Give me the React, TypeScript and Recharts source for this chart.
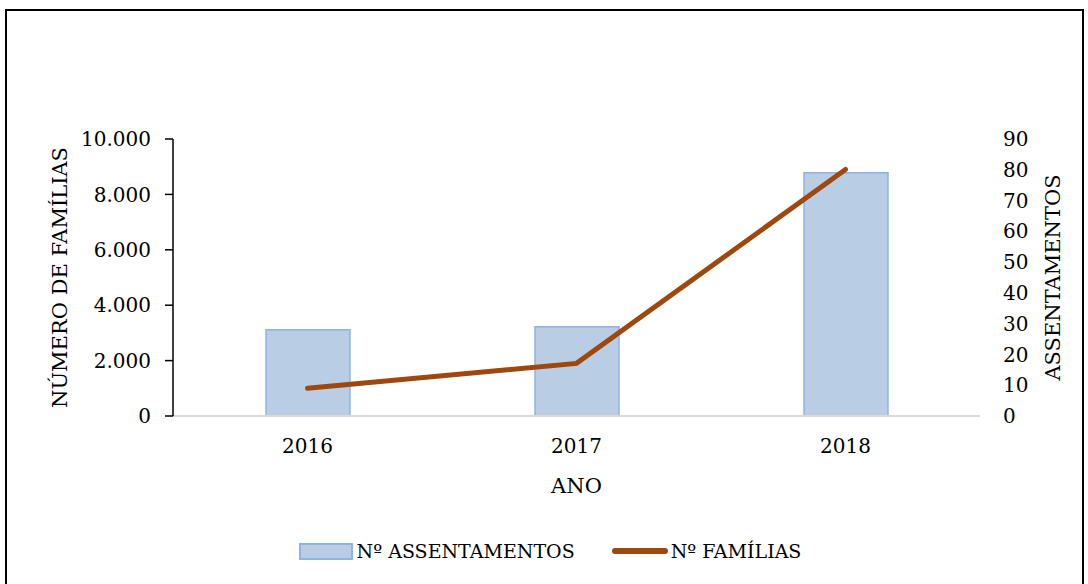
import { Bar, ComposedChart, Line, XAxis, YAxis } from "recharts";

const years = ["2016", "2017", "2018"];
const assentamentos = [28, 29, 79];
const familias = [1000, 1900, 8900];
const familiaTicks = [0, 2000, 4000, 6000, 8000, 10000];
const assentTicks = [0, 10, 20, 30, 40, 50, 60, 70, 80, 90];

const FONT = "'DejaVu Serif', serif";
const BAR_FILL = "#B9CDE5";
const BAR_STROKE = "#8EB4E3";
const LINE_COLOR = "#9E480E";

const data = years.map((year, i) => ({
  year,
  assentamentos: assentamentos[i],
  familias: familias[i]
}));

const fmt = (v: number) => v.toLocaleString("de-DE");

const tickStyle = { fill: "#000", fontSize: 20, fontFamily: FONT };

export default function App() {
  return (
    <div
      style={{
        position: "absolute",
        left: 0,
        top: 0,
        width: 1088,
        height: 584,
        overflow: "hidden",
        background: "#fff",
        fontFamily: FONT
      }}
    >
      <div
        style={{
          position: "absolute",
          left: 5,
          top: 9,
          width: 1079,
          height: 620,
          boxSizing: "border-box",
          border: "2px solid #000"
        }}
      />
      <ComposedChart
        width={1088}
        height={584}
        data={data}
        margin={{ top: 139, right: 0, bottom: 83, left: 0 }}
        style={{ position: "absolute", left: 0, top: 0 }}
      >
        <XAxis
          dataKey="year"
          height={85}
          tickLine={false}
          axisLine={{ stroke: "#D9D9D9", strokeWidth: 2 }}
          tick={tickStyle}
          tickSize={0}
          tickMargin={23}
          label={{
            value: "ANO",
            position: "insideBottom",
            offset: 8,
            fill: "#000",
            fontSize: 21,
            fontFamily: FONT
          }}
        />
        <YAxis
          yAxisId="left"
          width={173}
          domain={[0, 10000]}
          ticks={familiaTicks}
          tickFormatter={fmt}
          tick={tickStyle}
          tickSize={8}
          tickMargin={14}
          axisLine={{ stroke: "#000", strokeWidth: 1.5 }}
          tickLine={{ stroke: "#000", strokeWidth: 1.5 }}
          label={{
            value: "NÚMERO DE FAMÍLIAS",
            angle: -90,
            position: "insideLeft",
            offset: 60,
            fill: "#000",
            fontSize: 21,
            fontFamily: FONT,
            style: { textAnchor: "middle" }
          }}
        />
        <YAxis
          yAxisId="right"
          orientation="right"
          width={108}
          domain={[0, 90]}
          ticks={assentTicks}
          tick={tickStyle}
          tickSize={0}
          tickMargin={23}
          axisLine={false}
          tickLine={false}
          label={{
            value: "ASSENTAMENTOS",
            angle: -90,
            position: "insideRight",
            offset: 35,
            fill: "#000",
            fontSize: 21,
            fontFamily: FONT,
            style: { textAnchor: "middle" }
          }}
        />
        <Bar
          yAxisId="right"
          dataKey="assentamentos"
          name="Nº ASSENTAMENTOS"
          barSize={84}
          fill={BAR_FILL}
          stroke={BAR_STROKE}
          strokeWidth={1.5}
          isAnimationActive={false}
        />
        <Line
          yAxisId="left"
          dataKey="familias"
          name="Nº FAMÍLIAS"
          stroke={LINE_COLOR}
          strokeWidth={5}
          strokeLinecap="round"
          dot={false}
          activeDot={false}
          isAnimationActive={false}
        />
      </ComposedChart>
      <div
        style={{
          position: "absolute",
          left: 0,
          top: 540,
          width: 1088,
          display: "flex",
          justifyContent: "center",
          alignItems: "center",
          fontSize: 19,
          color: "#000",
          paddingLeft: 12,
          boxSizing: "border-box"
        }}
      >
        <span
          style={{
            display: "inline-block",
            width: 50,
            height: 13,
            background: BAR_FILL,
            border: `2px solid ${BAR_STROKE}`,
            marginRight: 4
          }}
        />
        <span>Nº ASSENTAMENTOS</span>
        <span
          style={{
            display: "inline-block",
            width: 56,
            height: 6,
            borderRadius: 3,
            background: LINE_COLOR,
            marginLeft: 37,
            marginRight: 3
          }}
        />
        <span>Nº FAMÍLIAS</span>
      </div>
    </div>
  );
}
